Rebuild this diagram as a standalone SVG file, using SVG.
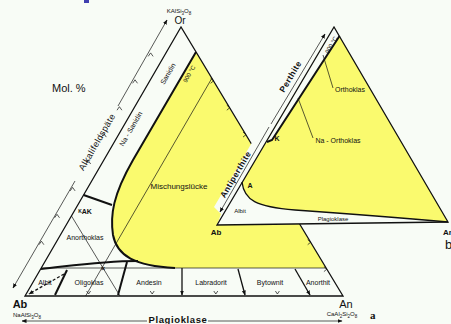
<svg xmlns="http://www.w3.org/2000/svg" width="451" height="324" viewBox="0 0 451 324">
<defs>
<marker id="ah" viewBox="0 0 10 10" refX="9" refY="5" markerWidth="5" markerHeight="5" orient="auto-start-reverse" markerUnits="userSpaceOnUse"><path d="M0,1 L10,5 L0,9 Z" fill="#111"/></marker>
</defs>
<style>
.bg{fill:#f8fcf6}
.yel{fill:#fafa6e}
.ln{fill:none;stroke:#111;stroke-width:1.3}
.thin{fill:none;stroke:#111;stroke-width:0.7}
.thick{fill:none;stroke:#111;stroke-width:2}
.tk{fill:none;stroke:#111;stroke-width:0.7}
text{font-family:"Liberation Sans",Arial,sans-serif;fill:#111}
.s{font-size:7px}
.m{font-size:8px}
.v{font-size:11px;font-weight:bold}
.f{font-size:6px}
</style>
<rect x="0" y="0" width="451" height="324" class="bg"/>
<rect x="84" y="0" width="5" height="3" fill="#4040b0"/>

<g id="triangle-a">
<path class="yel" d="M196,52 L133,160 C113,195 110,215 113,235 C117,256 135,266 175,268 L326,268 Z"/>
<polygon class="ln" points="181,27 25,296 343,296"/>
<path class="thick" d="M196,52 L133,160 C113,195 110,215 113,235 C117,256 135,266 175,268"/>
<line class="thin" x1="41" y1="268" x2="326" y2="268"/>
<path class="thick" d="M41,269 C70,266 100,261 138,261"/>
<line class="thin" x1="212" y1="78" x2="85.6" y2="296"/>
<line class="thin" x1="71.5" y1="216" x2="120" y2="296"/>
<line class="thick" x1="83.6" y1="195" x2="112" y2="205"/>
<line class="thick" x1="67" y1="270" x2="55" y2="295"/>
<line class="thick" x1="127" y1="262" x2="118" y2="295"/>
<line class="ln" x1="182" y1="268" x2="182" y2="295" marker-end="url(#ah)"/>
<line class="ln" x1="238" y1="269" x2="245" y2="295" marker-end="url(#ah)"/>
<line class="ln" x1="295" y1="269" x2="310" y2="295" marker-end="url(#ah)"/>
<line class="ln" x1="64" y1="274" x2="29" y2="294" stroke-dasharray="3,2" marker-end="url(#ah)"/>
<text class="s" x="103" y="270.5" text-anchor="middle" font-weight="bold">×</text>
<g class="tk">
<polyline points="148.2,56.4 150.6,52.9 153.1,56.4"/>
<polyline points="132.6,83.3 135,79.8 137.5,83.3"/>
<polyline points="117,110.2 119.4,106.7 121.9,110.2"/>
<polyline points="101.4,137.1 103.8,133.6 106.3,137.1"/>
<polyline points="85.8,164 88.2,160.5 90.7,164"/>
<polyline points="70.2,190.9 72.6,187.4 75.1,190.9"/>
<polyline points="54.6,217.8 57,214.3 59.5,217.8"/>
<polyline points="39,244.7 41.4,241.2 43.9,244.7"/>
<polyline points="210.6,78.3 213.6,80.8 210.6,83.3"/>
<polyline points="226.8,105.2 229.8,107.7 226.8,110.2"/>
<polyline points="243,132.1 246,134.6 243,137.1"/>
<polyline points="307.7,239.7 310.7,242.2 307.7,244.7"/>
<polyline points="323.9,266.6 326.9,269.1 323.9,271.6"/>
<polyline points="86.6,291 88.6,294 90.6,291"/>
<polyline points="150.2,291 152.2,294 154.2,291"/>
<polyline points="213.8,291 215.8,294 217.8,291"/>
<polyline points="275.4,291 277.4,294 279.4,291"/>
</g>
<line class="thin" x1="13" y1="288" x2="75" y2="181" marker-start="url(#ah)"/>
<line class="thin" x1="118" y1="106" x2="167" y2="20" marker-end="url(#ah)"/>
<text x="99.6" y="143.5" font-size="9" text-anchor="middle" transform="rotate(-60 99.6 143.5)" letter-spacing="0.4">Alkalifeldspäte</text>
<text class="s" x="170" y="75" text-anchor="middle" transform="rotate(-60 170 75)">Sanidin</text>
<text class="s" x="133" y="130" text-anchor="middle" transform="rotate(-60 133 130)">Na - Sanidin</text>
<text class="f" x="191" y="75" text-anchor="middle" transform="rotate(-60 191 75)">900 °C</text>
<text x="52" y="92" font-size="11">Mol. %</text>
<text x="179" y="13" font-size="6" text-anchor="middle">KAlSi<tspan font-size="4.5" dy="1.5">3</tspan><tspan dy="-1.5">O</tspan><tspan font-size="4.5" dy="1.5">8</tspan></text>
<text x="180" y="24" font-size="10" text-anchor="middle">Or</text>
<text class="m" x="179" y="189" text-anchor="middle">Mischungslücke</text>
<text x="85" y="214" font-size="7" font-weight="bold" text-anchor="middle"><tspan font-size="5" dy="-1.5">K</tspan><tspan dy="1.5">AK</tspan></text>
<text class="s" x="85" y="240" text-anchor="middle">Anorthoklas</text>
<text class="s" x="45" y="285" text-anchor="middle">Albit</text>
<text class="s" x="89" y="285" text-anchor="middle">Oligoklas</text>
<text class="s" x="149" y="285" text-anchor="middle">Andesin</text>
<text class="s" x="211" y="285" text-anchor="middle">Labradorit</text>
<text class="s" x="270" y="285" text-anchor="middle">Bytownit</text>
<text class="s" x="318" y="285" text-anchor="middle">Anorthit</text>
<text class="v" x="20" y="308" text-anchor="middle">Ab</text>
<text x="27" y="317" font-size="6" text-anchor="middle">NaAlSi<tspan font-size="4.5" dy="1.5">3</tspan><tspan dy="-1.5">O</tspan><tspan font-size="4.5" dy="1.5">8</tspan></text>
<text x="346" y="308" font-size="11" text-anchor="middle">An</text>
<text x="342" y="316" font-size="6" text-anchor="middle">CaAl<tspan font-size="4.5" dy="1.5">2</tspan><tspan dy="-1.5">Si</tspan><tspan font-size="4.5" dy="1.5">2</tspan><tspan dy="-1.5">O</tspan><tspan font-size="4.5" dy="1.5">8</tspan></text>
<text x="370" y="319" font-size="11" font-weight="bold" style="font-family:'Liberation Serif',serif">a</text>
<line class="thin" x1="22" y1="321" x2="147" y2="321" marker-start="url(#ah)"/>
<line class="thin" x1="208" y1="321" x2="342" y2="321" marker-end="url(#ah)"/>
<text x="178" y="323" font-size="9.5" font-weight="bold" text-anchor="middle" letter-spacing="0.6">Plagioklase</text>
</g>

<g id="triangle-b">
<polygon class="bg" points="334,27 320,27 214,207 221,214 217,225"/>
<polygon class="yel" points="334,27 217,225 448,222"/>
<polygon class="bg" points="334,27 339.5,36 272,140 266,143"/>
<path class="bg" d="M242,182 C244,200 256,207 295,210 Q380,216 448,222 L217,225 Z"/>
<path class="ln" d="M242,182 C244,200 256,207 295,210 Q380,216 448,222"/>
<polygon class="ln" points="334,27 217,225 448,222"/>
<path class="thick" d="M339.5,36 L272,140 L267,142"/>
<line class="thin" x1="333" y1="88" x2="323" y2="55"/>
<line class="thin" x1="313" y1="138" x2="298" y2="98"/>
<line class="thin" x1="271" y1="124" x2="325" y2="34" marker-end="url(#ah)"/>
<line class="thin" x1="269" y1="127" x2="220" y2="212" marker-end="url(#ah)"/>
<text x="293" y="78" font-size="8.5" font-weight="bold" text-anchor="middle" transform="rotate(-59.4 293 78)" letter-spacing="0.4">Perthite</text>
<text x="238" y="176" font-size="8.5" font-weight="bold" text-anchor="middle" transform="rotate(-59.4 238 176)" letter-spacing="0.4">Antiperthite</text>
<text class="f" x="333" y="46" text-anchor="middle" transform="rotate(-60 333 46)">900 °C</text>
<text class="s" x="350" y="92" text-anchor="middle">Orthoklas</text>
<text class="s" x="338" y="143" text-anchor="middle">Na - Orthoklas</text>
<text x="277" y="141" font-size="7" font-weight="bold" text-anchor="middle">K</text>
<text x="250" y="188" font-size="7" font-weight="bold" text-anchor="middle">A</text>
<text class="f" x="240" y="213" text-anchor="middle">Albit</text>
<text class="f" x="333" y="221" text-anchor="middle">Plagioklase</text>
<text x="216" y="235" font-size="8" font-weight="bold" text-anchor="middle">Ab</text>
<text x="443" y="235" font-size="8" font-weight="bold">An</text>
<text x="445" y="249" font-size="13">b</text>
</g>
</svg>
